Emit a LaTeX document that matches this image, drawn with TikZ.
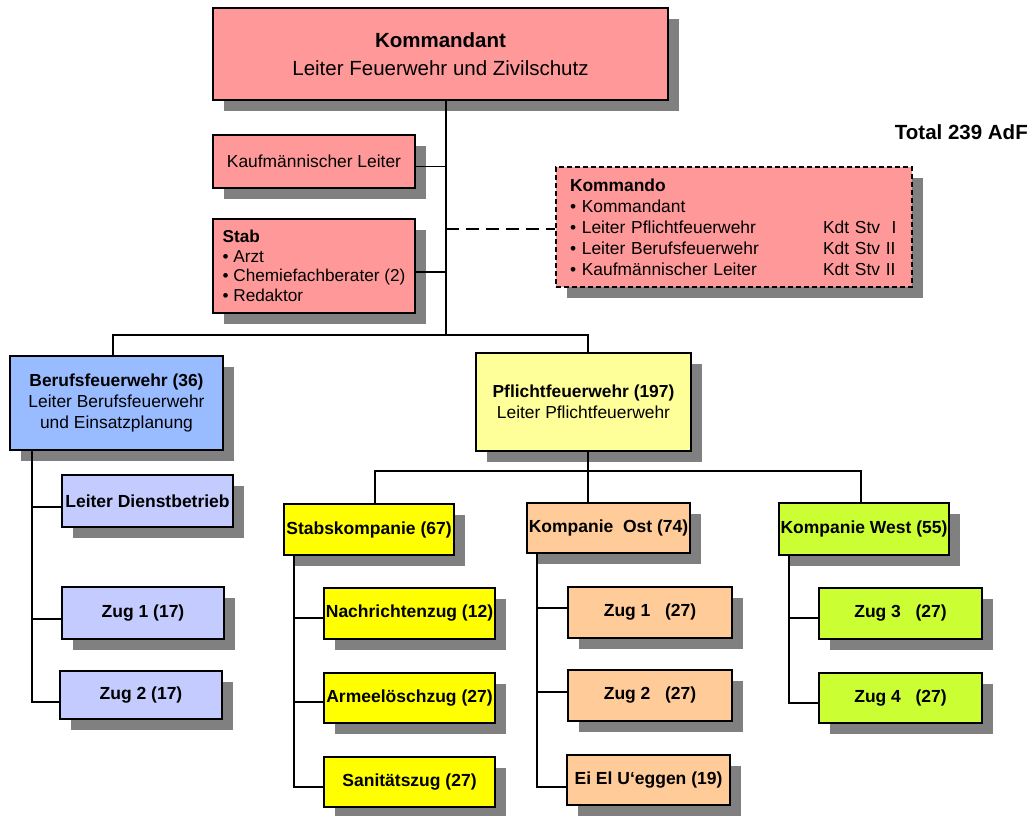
\documentclass[tikz,border=0pt]{standalone}
\usepackage{fontspec}
\setmainfont{Liberation Sans}
\usetikzlibrary{shadows}
\definecolor{cpink}{HTML}{FF9999}
\definecolor{cblue}{HTML}{99BBFF}
\definecolor{clblue}{HTML}{C4CCFF}
\definecolor{cpyel}{HTML}{FFFF99}
\definecolor{cyel}{HTML}{FFFF00}
\definecolor{cpeach}{HTML}{FFCC99}
\definecolor{clime}{HTML}{CCFF33}
\definecolor{cshadow}{HTML}{808080}
\tikzset{
  box/.style={draw=black, line width=1.3pt, rectangle, inner sep=0pt, align=center,
    font=\fontsize{17.4}{21}\selectfont,
    general shadow={fill=cshadow, shadow xshift=11pt, shadow yshift=-11pt}},
  bbox/.style={box, font=\fontsize{17.5}{21}\selectfont\bfseries},
  lbox/.style={box, align=left},
  conn/.style={line width=1.4pt, draw=black},
}
\begin{document}
\begin{tikzpicture}[x=1pt,y=-1pt]
\useasboundingbox (0,0) rectangle (1034,816);
% top level
\node[box, fill=cpink, minimum width=455pt, minimum height=92pt, font=\fontsize{20.5}{27.5}\selectfont] (kdt) at (440.5,54)
  {\textbf{Kommandant}\\Leiter Feuerwehr und Zivilschutz};
\node[box, fill=cpink, minimum width=202pt, minimum height=53pt] (kfm) at (314,161.5) {Kaufmännischer Leiter};
\node[lbox, fill=cpink, minimum width=202pt, minimum height=94pt, font=\fontsize{17.2}{19.5}\selectfont] (stab) at (314,266)
  {\textbf{Stab}\\• Arzt\\• Chemiefachberater (2)\\• Redaktor};
\node[lbox, fill=cpink, text width=328pt, inner xsep=14pt, minimum height=120pt, dashed, dash pattern=on 5pt off 3pt] (kmdo) at (734,227)
  {\textbf{Kommando}\\
   • Kommandant\\
   \makebox[253pt][l]{• Leiter Pflichtfeuerwehr}Kdt Stv\ \ I\\
   \makebox[253pt][l]{• Leiter Berufsfeuerwehr}Kdt Stv II\\
   \makebox[253pt][l]{• Kaufmännischer Leiter}Kdt Stv II};
\node[font=\fontsize{20.5}{22}\selectfont\bfseries, anchor=east, inner sep=0pt] (total) at (1028,132) {Total 239 AdF};
% second level
\node[box, fill=cblue, minimum width=213pt, minimum height=94pt] (bf) at (116.5,403)
  {\textbf{Berufsfeuerwehr (36)}\\Leiter Berufsfeuerwehr\\und Einsatzplanung};
\node[box, fill=cpyel, minimum width=215pt, minimum height=98pt] (pf) at (583.5,402)
  {\textbf{Pflichtfeuerwehr (197)}\\Leiter Pflichtfeuerwehr};
% Berufsfeuerwehr subtree
\node[bbox, fill=clblue, minimum width=171pt, minimum height=52pt] (ld) at (147.5,501) {Leiter Dienstbetrieb};
\node[bbox, fill=clblue, minimum width=162pt, minimum height=52pt] (bz1) at (143,613) {Zug 1 (17)};
\node[bbox, fill=clblue, minimum width=162pt, minimum height=48pt] (bz2) at (141,695) {Zug 2 (17)};
% companies
\node[bbox, fill=cyel, minimum width=170pt, minimum height=51pt] (sk) at (369,529.5) {Stabskompanie (67)};
\node[bbox, fill=cpeach, minimum width=163pt, minimum height=50pt] (ko) at (608.5,528) {Kompanie\ \ Ost (74)};
\node[bbox, fill=clime, minimum width=170pt, minimum height=52pt] (kw) at (864,529) {Kompanie West (55)};
% Stabskompanie subtree
\node[bbox, fill=cyel, minimum width=171pt, minimum height=51pt] (nz) at (409.5,613.5) {Nachrichtenzug (12)};
\node[bbox, fill=cyel, minimum width=171pt, minimum height=50pt] (az) at (409.5,698) {Armeelöschzug (27)};
\node[bbox, fill=cyel, minimum width=171pt, minimum height=50pt] (sz) at (409.5,782) {Sanitätszug (27)};
% Kompanie Ost subtree
\node[bbox, fill=cpeach, minimum width=164pt, minimum height=51pt] (oz1) at (650,612.5) {Zug 1\ \ \ (27)};
\node[bbox, fill=cpeach, minimum width=164pt, minimum height=51pt] (oz2) at (650,695.5) {Zug 2\ \ \ (27)};
\node[bbox, fill=cpeach, minimum width=163pt, minimum height=50pt] (ee) at (648.5,780) {Ei El U‘eggen (19)};
% Kompanie West subtree
\node[bbox, fill=clime, minimum width=163pt, minimum height=51pt] (wz3) at (900.5,613.5) {Zug 3\ \ \ (27)};
\node[bbox, fill=clime, minimum width=163pt, minimum height=50pt] (wz4) at (900.5,698) {Zug 4\ \ \ (27)};
% coordinates for trunks
\coordinate (tr) at (446,335);
\coordinate (bus2) at (588,471);
\coordinate (bft) at (32,0);
\coordinate (skt) at (294,0);
\coordinate (kot) at (537,0);
\coordinate (kwt) at (789,0);
% connectors
\draw[conn] (kdt.south -| tr) -- (tr);
\draw[conn] ([yshift=-5pt]kfm.east) -- ([yshift=-5pt]kfm.east -| tr);
\draw[conn] ([yshift=-6pt]stab.east) -- ([yshift=-6pt]stab.east -| tr);
\draw[conn, dashed, dash pattern=on 13pt off 7pt] ([yshift=-2pt]kmdo.west -| tr) -- ([yshift=-2pt]kmdo.west);
\draw[conn] (bf.north -| 113,0) -- (113,335) -- (588,335) -- (pf.north -| 588,0);
\draw[conn] (pf.south -| bus2) -- (ko.north -| bus2);
\draw[conn] (sk.north -| 375,0) -- (375,471) -- (861,471) -- (kw.north -| 861,0);
\draw[conn] (bf.south -| bft) -- ([yshift=-7pt]bz2.west -| bft) -- ([yshift=-7pt]bz2.west);
\draw[conn] ([yshift=-6pt]ld.west -| bft) -- ([yshift=-6pt]ld.west);
\draw[conn] ([yshift=-6pt]bz1.west -| bft) -- ([yshift=-6pt]bz1.west);
\draw[conn] (sk.south -| skt) -- ([yshift=-5pt]sz.west -| skt) -- ([yshift=-5pt]sz.west);
\draw[conn] ([yshift=-4.5pt]nz.west -| skt) -- ([yshift=-4.5pt]nz.west);
\draw[conn] ([yshift=-4pt]az.west -| skt) -- ([yshift=-4pt]az.west);
\draw[conn] (ko.south -| kot) -- ([yshift=-7pt]ee.west -| kot) -- ([yshift=-7pt]ee.west);
\draw[conn] ([yshift=4.5pt]oz1.west -| kot) -- ([yshift=4.5pt]oz1.west);
\draw[conn] ([yshift=3.5pt]oz2.west -| kot) -- ([yshift=3.5pt]oz2.west);
\draw[conn] (kw.south -| kwt) -- ([yshift=-5pt]wz4.west -| kwt) -- ([yshift=-5pt]wz4.west);
\draw[conn] ([yshift=-4.5pt]wz3.west -| kwt) -- ([yshift=-4.5pt]wz3.west);
\end{tikzpicture}
\end{document}
